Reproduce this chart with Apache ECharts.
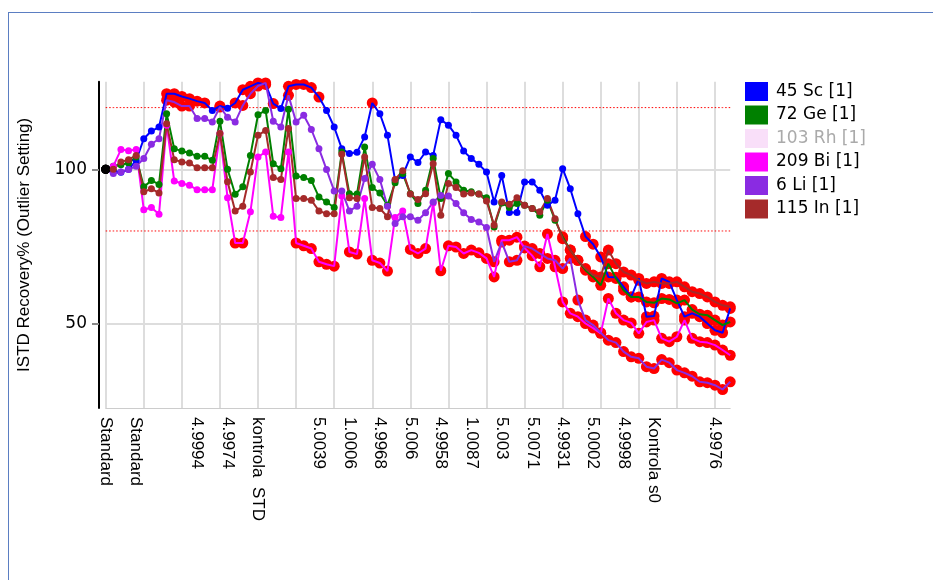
<!DOCTYPE html>
<html>
<head>
<meta charset="utf-8">
<script src="https://cdn.jsdelivr.net/npm/echarts@6/dist/echarts.min.js"></script>
<style>
  html, body { margin: 0; padding: 0; background: #fff; }
  #chart { width: 933px; height: 580px; }
</style>
</head>
<body>
<div id="chart"></div>
<script>
// sample positions that carry a tick label, and their text
const labelIndex = [0, 4, 12, 16, 20, 28, 32, 36, 40, 44, 48, 52, 56, 60, 64, 68, 72, 80];
const labelText = ['Standard', 'Standard', '4.9994', '4.9974', 'kontrola  STD', '5.0039', '1.0006', '4.9968',
  '5.006', '4.9958', '1.0087', '5.003', '5.0071', '4.9931', '5.0002', '4.9998', 'Kontrola s0', '4.9976'];

const sampleCount = 83;

// ISTD recovery %, one value per sample
const sc45 = [100, 99.5, 99, 100, 102.9, 109.9, 112.4, 113.7, 124.5, 124.5,
  123.6, 122.9, 122.1, 121.5, 119.1, 120.5, 119.8, 121.5, 125.8, 126.9,
  128, 127.5, 121.3, 119.7, 126.9, 127.5, 127.5, 126.5, 123.4, 119.1,
  113.7, 106.7, 105.1, 105.5, 110.5, 121.5, 118, 111, 96.4, 98,
  104, 102.2, 105.6, 104.5, 116.1, 114.3, 111, 105.9, 103.5, 101.6,
  99.1, 89.4, 98, 86, 86, 95.9, 95.9, 93.2, 88.3, 90,
  100.2, 93.7, 85.6, 78.2, 75.7, 71.6, 65.1, 65, 61.9, 58.6,
  64.6, 52.2, 52.4, 64.6, 63.5, 57.6, 52.2, 53.3, 52.2, 50,
  47.8, 47, 54.9];
const ge72 = [100, 101, 101.5, 102, 104, 94.3, 96.4, 95.1, 118, 106.7,
  105.9, 105.3, 104.2, 104.2, 102.9, 115.6, 100, 91.9, 94.3, 104.5,
  117.7, 119.1, 101.8, 100.2, 119.5, 97.8, 97.3, 96.4, 91, 89.4,
  87.6, 105.6, 92.1, 92, 107.2, 94.1, 92.3, 88.3, 95.6, 98.6,
  92.1, 88.9, 93.2, 103.5, 90.5, 98.6, 95.9, 93.2, 92.7, 92,
  90.8, 81.3, 89.1, 87.6, 88.9, 88.3, 87.3, 85.1, 90, 83.5,
  78.1, 73.8, 70.5, 67.3, 65.1, 62.4, 69.4, 64.6, 60.8, 58.6,
  58.6, 57, 56.7, 58.1, 57.8, 56.5, 57.6, 54.5, 53, 52.7,
  51.1, 49.5, 50.5];
const rh103 = [];
const bi209 = [100, 101, 106.4, 106, 106.4, 86.9, 87.6, 85.4, 114.3, 96.2,
  95.4, 94.8, 93.4, 93.4, 93.4, 111.6, 90.8, 76.1, 76.1, 86.2,
  104, 105.6, 84.8, 84.4, 105.6, 76.1, 75.2, 74.3, 70, 69.2,
  68.6, 91.3, 73.2, 72.5, 90.5, 70.5, 69.6, 67, 84.4, 86.5,
  74, 72.7, 74.3, 89.1, 67.1, 75.2, 74.8, 72.7, 73.8, 72.9,
  71.1, 65.1, 77, 77, 78, 74.5, 72, 68.4, 79, 68.4,
  57, 53.3, 52.2, 50, 48.5, 46.8, 58.1, 53.3, 51.1, 50.2,
  46.8, 50.5, 51.1, 45.2, 44.1, 45.7, 51.1, 45.2, 44.1, 43.8,
  43, 41.4, 39.7];
const li6 = [100, 98.6, 99.1, 99.9, 101, 103.5, 108.1, 109.9, 122.4, 121.8,
  120.5, 120.5, 116.5, 116.5, 115.3, 120.2, 116.9, 115.3, 120.7, 124.5,
  127, 128, 115.6, 113.7, 124, 115.3, 117.5, 112.9, 106.7, 99.9,
  93, 93, 86.5, 88, 97, 101.6, 96.7, 88, 82.4, 84.6,
  84.6, 83.5, 85.9, 89.4, 91.5, 91.3, 88.9, 85.9, 83.7, 82.9,
  81.1, 70, 76.4, 70, 70.5, 75.1, 74.3, 72.7, 71.1, 70.5,
  67.8, 71.1, 57.6, 51.1, 49.5, 47, 44.6, 43.8, 40.9, 39.2,
  38.7, 36, 35.4, 38.3, 37.3, 34.9, 34, 32.9, 31.1, 30.8,
  30, 28.6, 31.1];
const in115 = [100, 100, 102.4, 103.1, 104.5, 92.7, 93.7, 92.3, 114.8, 103.1,
  102.4, 102, 100.5, 100.5, 100.5, 111.6, 96, 86.5, 88, 99.1,
  111, 112.6, 97.3, 96.7, 113.2, 90.5, 90.5, 90, 86.5, 85.6,
  85.6, 104.9, 90.8, 90.5, 104, 87.6, 87.3, 84.6, 96.7, 99.5,
  92, 90.2, 92.1, 101.8, 85.1, 95.4, 94.1, 92, 92.3, 92,
  89.7, 81.9, 89.4, 88.7, 90.8, 88.3, 87.3, 86.2, 90.5, 84,
  77.5, 73.8, 70.5, 67.8, 65.7, 65.1, 73.8, 69.4, 66.7, 65.7,
  64, 63, 63.5, 63, 63, 63.5, 61.9, 60.3, 59.7, 58.6,
  57, 55.9, 55.4];

const seriesNames = ['45 Sc [1]', '72 Ge [1]', '103 Rh [1]', '209 Bi [1]', '6 Li [1]', '115 In [1]'];
const seriesColors = ['#0000ff', '#008000', '#f9dff9', '#ff00ff', '#8a2be2', '#a52a2a'];
const seriesValues = [sc45, ge72, rh103, bi209, li6, in115];

// outlier limits
const lowLimit = 80;
const highLimit = 120;

const categories = [];
const xLabels = [];
for (let i = 0; i < sampleCount; i++) {
  categories.push(String(i));
  xLabels.push('');
}
labelIndex.forEach((idx, k) => { xLabels[idx] = labelText[k]; });

function isOutlier(v) {
  return v < lowLimit || v > highLimit;
}

// line data: first sample black, outliers left to the red scatter underneath
function lineData(values) {
  return values.map((v, i) => {
    if (i === 0) return { value: v, symbolSize: 9, itemStyle: { color: '#000' } };
    if (isOutlier(v)) return { value: v, symbol: 'none' };
    return v;
  });
}

const outlierPoints = [];
seriesValues.forEach(values => {
  values.forEach((v, i) => {
    if (i > 0 && isOutlier(v)) outlierPoints.push([i, v]);
  });
});

const chart = echarts.init(document.getElementById('chart'), null, { renderer: 'canvas' });

const series = seriesNames.map((name, k) => ({
  name: name,
  type: 'line',
  data: lineData(seriesValues[k]),
  symbol: 'circle',
  symbolSize: 7,
  showAllSymbol: true,
  lineStyle: { width: 2, color: seriesColors[k] },
  itemStyle: { color: seriesColors[k] },
  z: 3,
  animation: false
}));

series.push({
  name: 'outliers',
  type: 'scatter',
  data: outlierPoints,
  symbolSize: 11,
  itemStyle: { color: '#ff0000', opacity: 1 },
  z: 2,
  animation: false
});

// dotted red limit lines
[lowLimit, highLimit].forEach(lim => {
  series.push({
    name: 'limit ' + lim,
    type: 'line',
    data: categories.map(() => lim),
    symbol: 'none',
    silent: true,
    lineStyle: { color: '#ff0000', type: [1.5, 2], width: 1 },
    itemStyle: { color: '#ff0000' },
    z: 1,
    animation: false
  });
});

chart.setOption({
  backgroundColor: '#fff',
  animation: false,
  grid: { left: 105.7, right: 202.8, top: 81.7, bottom: 172 },
  legend: {
    orient: 'vertical',
    left: 745,
    top: 82,
    padding: 0,
    icon: 'rect',
    itemWidth: 23,
    itemHeight: 19,
    itemGap: 4.5,
    selectedMode: false,
    textStyle: { fontFamily: 'DejaVu Sans', fontSize: 17, color: '#000', padding: [0, 0, 0, 3] },
    data: seriesNames.map(n => n === '103 Rh [1]'
      ? { name: n, textStyle: { color: '#aaaaaa' } }
      : { name: n })
  },
  xAxis: {
    type: 'category',
    data: categories,
    boundaryGap: false,
    axisLine: { show: true, lineStyle: { color: '#cccccc', width: 1 } },
    axisTick: { show: false },
    axisLabel: {
      interval: 0,
      rotate: -90,
      margin: 9,
      fontFamily: 'Liberation Sans',
      fontSize: 17,
      color: '#000',
      formatter: (v, i) => xLabels[i]
    },
    splitLine: {
      show: true,
      interval: i => i % 5 === 0,
      lineStyle: { color: '#dddddd', width: 2 }
    }
  },
  yAxis: {
    type: 'value',
    min: 22.6,
    max: 128.4,
    offset: 6.7,
    name: 'ISTD Recovery% (Outlier Setting)',
    nameLocation: 'middle',
    nameRotate: 90,
    nameGap: 66,
    nameTextStyle: { fontFamily: 'Liberation Sans', fontSize: 17, color: '#000' },
    axisLine: { show: true, lineStyle: { color: '#000', width: 2 } },
    axisTick: { show: true, length: 7, customValues: [50, 100], lineStyle: { color: '#888888', width: 2 } },
    axisLabel: { customValues: [50, 100], margin: 12, fontFamily: 'DejaVu Sans', fontSize: 17, color: '#000' },
    splitLine: { show: true, lineStyle: { color: '#dddddd', width: 2 } }
  },
  graphic: [
    { type: 'line', shape: { x1: 8.5, y1: 12, x2: 8.5, y2: 580 }, style: { stroke: '#5b7ec2', lineWidth: 1 } },
    { type: 'line', shape: { x1: 8, y1: 12.5, x2: 933, y2: 12.5 }, style: { stroke: '#5b7ec2', lineWidth: 1 } }
  ],
  series: series
});
</script>
</body>
</html>
